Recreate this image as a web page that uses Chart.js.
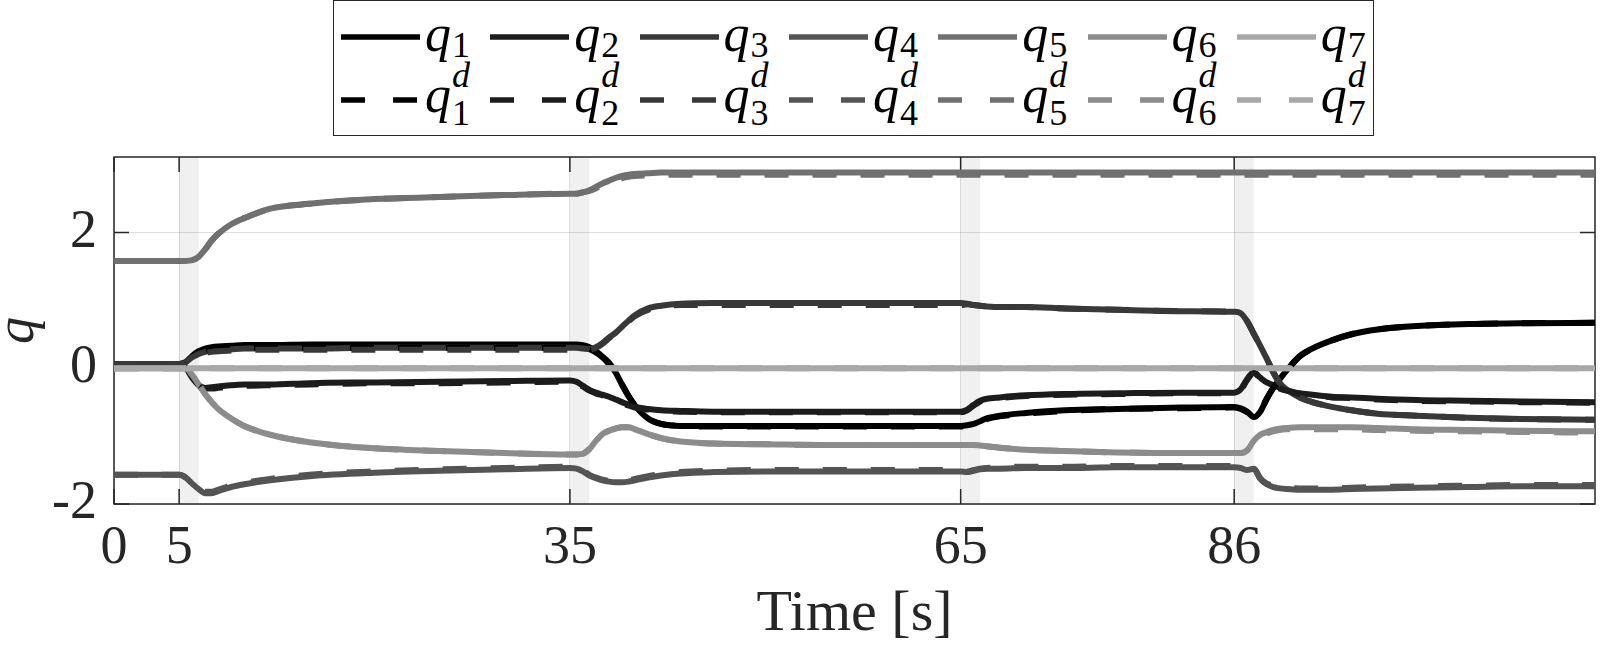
<!DOCTYPE html>
<html>
<head>
<meta charset="utf-8">
<title>Joint positions q</title>
<script src="https://cdn.jsdelivr.net/npm/chart.js@4.4.1/dist/chart.umd.min.js"></script>
<style>
  html, body { margin: 0; padding: 0; background: #fff; }
  #wrap { position: relative; width: 1603px; height: 653px; overflow: hidden; }
  #qChart { position: absolute; left: 0; top: 0; }
  #legendBox { position: absolute; left: 333px; top: 0; width: 1041px; height: 136px; box-sizing: border-box; border: 1.5px solid #262626; background: #fff; }
  #legendItems { position: absolute; left: 0; top: 0; font-family: "Liberation Serif", serif; }
  .sample { position: absolute; }
  .lab { position: absolute; font-family: "Liberation Serif", serif; font-size: 52px; line-height: 52px; color: #000; white-space: nowrap; }
  .lab i { font-family: "Liberation Serif", serif; font-style: italic; }
  .scr { position: relative; display: inline-block; width: 22px; height: 0; }
  .scr span { position: absolute; left: 1px; font-family: "Liberation Serif", serif; font-size: 36px; line-height: 36px; }
  .sub1 { bottom: -12px; }
  .sub2 { bottom: -19px; }
  .sup { bottom: 19px; font-style: italic; }
</style>
</head>
<body>
<div id="wrap">
  <canvas id="qChart" width="1603" height="653"></canvas>
  <div id="legendBox"></div>
  <div id="legendItems"></div>
</div>
<script>
// sample times [s]
const time = [0, 5, 5.5, 6, 6.5, 7, 7.5, 8, 9, 10,
  12, 15, 20, 25, 30, 35, 35.5, 36, 36.5, 37,
  37.5, 38, 38.5, 39, 39.5, 40, 41, 42, 43.5, 46,
  50, 55, 60, 65, 65.5, 66, 66.5, 67, 68, 70,
  73, 77, 82, 86, 86.5, 87, 87.5, 88, 88.5, 89,
  89.5, 90, 91, 92, 93.5, 95, 97, 100, 104, 108,
  113.7];

// measured joint positions
const q1 = [0.06, 0.06, 0.09, 0.18, 0.25, 0.29, 0.31, 0.32, 0.33, 0.34,
  0.34, 0.35, 0.35, 0.35, 0.35, 0.35, 0.35, 0.34, 0.31, 0.25,
  0.17, 0.08, -0.06, -0.24, -0.41, -0.55, -0.74, -0.82, -0.85, -0.85,
  -0.85, -0.85, -0.85, -0.85, -0.84, -0.82, -0.78, -0.74, -0.7, -0.66,
  -0.62, -0.6, -0.58, -0.57, -0.59, -0.64, -0.72, -0.64, -0.45, -0.29,
  -0.16, -0.04, 0.17, 0.29, 0.41, 0.5, 0.57, 0.62, 0.65, 0.66,
  0.67];
const q2 = [0.06, 0.06, 0.01, -0.14, -0.25, -0.29, -0.28, -0.27, -0.25, -0.24,
  -0.24, -0.22, -0.21, -0.2, -0.19, -0.18, -0.2, -0.26, -0.32, -0.36,
  -0.39, -0.42, -0.46, -0.5, -0.54, -0.57, -0.6, -0.62, -0.63, -0.64,
  -0.64, -0.64, -0.64, -0.64, -0.61, -0.54, -0.48, -0.45, -0.43, -0.4,
  -0.38, -0.37, -0.36, -0.36, -0.31, -0.16, -0.06, -0.14, -0.21, -0.25,
  -0.29, -0.32, -0.37, -0.39, -0.42, -0.43, -0.45, -0.47, -0.48, -0.49,
  -0.5];
const q3 = [0.06, 0.06, 0.09, 0.16, 0.21, 0.24, 0.26, 0.27, 0.28, 0.29,
  0.29, 0.29, 0.3, 0.3, 0.3, 0.3, 0.3, 0.29, 0.28, 0.31,
  0.37, 0.45, 0.52, 0.61, 0.7, 0.78, 0.88, 0.92, 0.95, 0.96,
  0.96, 0.96, 0.96, 0.96, 0.95, 0.93, 0.92, 0.91, 0.9, 0.9,
  0.88, 0.86, 0.84, 0.83, 0.81, 0.69, 0.51, 0.33, 0.14, -0.06,
  -0.22, -0.31, -0.43, -0.5, -0.57, -0.62, -0.67, -0.7, -0.73, -0.75,
  -0.76];
const q4 = [-1.57, -1.57, -1.61, -1.7, -1.78, -1.84, -1.84, -1.81, -1.75, -1.71,
  -1.65, -1.59, -1.54, -1.51, -1.49, -1.47, -1.48, -1.52, -1.58, -1.62,
  -1.65, -1.67, -1.68, -1.68, -1.67, -1.65, -1.61, -1.58, -1.55, -1.53,
  -1.52, -1.52, -1.52, -1.52, -1.53, -1.51, -1.49, -1.48, -1.48, -1.47,
  -1.47, -1.46, -1.46, -1.46, -1.47, -1.5, -1.48, -1.63, -1.71, -1.75,
  -1.77, -1.78, -1.79, -1.79, -1.79, -1.78, -1.77, -1.76, -1.75, -1.74,
  -1.74];
const q5 = [1.58, 1.58, 1.58, 1.59, 1.64, 1.75, 1.88, 1.98, 2.12, 2.21,
  2.35, 2.42, 2.49, 2.52, 2.55, 2.57, 2.57, 2.59, 2.62, 2.67,
  2.72, 2.76, 2.8, 2.83, 2.85, 2.86, 2.87, 2.88, 2.88, 2.88,
  2.88, 2.88, 2.88, 2.88, 2.88, 2.88, 2.88, 2.88, 2.88, 2.88,
  2.88, 2.88, 2.88, 2.88, 2.88, 2.88, 2.88, 2.88, 2.88, 2.88,
  2.88, 2.88, 2.88, 2.88, 2.88, 2.88, 2.88, 2.88, 2.88, 2.88,
  2.88];
const q6 = [0, 0, 0, -0.1, -0.24, -0.38, -0.5, -0.6, -0.74, -0.85,
  -0.98, -1.09, -1.18, -1.22, -1.25, -1.27, -1.27, -1.26, -1.19, -1.07,
  -0.97, -0.92, -0.89, -0.87, -0.87, -0.9, -0.97, -1.03, -1.08, -1.11,
  -1.12, -1.13, -1.13, -1.13, -1.13, -1.13, -1.14, -1.15, -1.17, -1.2,
  -1.22, -1.24, -1.25, -1.25, -1.25, -1.21, -1.07, -0.98, -0.94, -0.91,
  -0.89, -0.88, -0.87, -0.87, -0.87, -0.87, -0.88, -0.9, -0.91, -0.92,
  -0.93];
const q7 = [0, 0, 0, 0, 0, 0, 0, 0, 0, 0,
  0, 0, 0, 0, 0, 0, 0, 0, 0, 0,
  0, 0, 0, 0, 0, 0, 0, 0, 0, 0,
  0, 0, 0, 0, 0, 0, 0, 0, 0, 0,
  0, 0, 0, 0, 0, 0, 0, 0, 0, 0,
  0, 0, 0, 0, 0, 0, 0, 0, 0, 0,
  0];

// desired joint positions
const q1d = [0.06, 0.06, 0.08, 0.16, 0.22, 0.26, 0.28, 0.29, 0.29, 0.3,
  0.3, 0.3, 0.3, 0.3, 0.3, 0.3, 0.3, 0.3, 0.28, 0.23,
  0.16, 0.06, -0.07, -0.24, -0.41, -0.55, -0.74, -0.82, -0.85, -0.86,
  -0.86, -0.86, -0.86, -0.86, -0.85, -0.83, -0.79, -0.75, -0.71, -0.67,
  -0.63, -0.6, -0.59, -0.58, -0.6, -0.65, -0.72, -0.64, -0.45, -0.29,
  -0.16, -0.04, 0.17, 0.29, 0.41, 0.5, 0.57, 0.62, 0.65, 0.66,
  0.67];
const q2d = [0.06, 0.06, 0.01, -0.15, -0.26, -0.3, -0.3, -0.29, -0.27, -0.26,
  -0.25, -0.24, -0.22, -0.22, -0.21, -0.2, -0.21, -0.27, -0.33, -0.37,
  -0.4, -0.43, -0.47, -0.51, -0.55, -0.58, -0.61, -0.63, -0.64, -0.65,
  -0.65, -0.65, -0.65, -0.65, -0.62, -0.55, -0.49, -0.46, -0.44, -0.41,
  -0.39, -0.38, -0.37, -0.37, -0.32, -0.17, -0.07, -0.15, -0.22, -0.26,
  -0.3, -0.33, -0.38, -0.4, -0.43, -0.44, -0.46, -0.48, -0.49, -0.5,
  -0.51];
const q3d = [0.06, 0.06, 0.08, 0.14, 0.19, 0.22, 0.24, 0.25, 0.26, 0.27,
  0.27, 0.27, 0.27, 0.27, 0.27, 0.27, 0.27, 0.27, 0.27, 0.3,
  0.36, 0.44, 0.52, 0.6, 0.69, 0.77, 0.86, 0.9, 0.93, 0.93,
  0.93, 0.93, 0.93, 0.93, 0.94, 0.93, 0.92, 0.91, 0.9, 0.9,
  0.88, 0.86, 0.84, 0.83, 0.81, 0.69, 0.51, 0.33, 0.14, -0.06,
  -0.22, -0.31, -0.43, -0.5, -0.57, -0.62, -0.67, -0.7, -0.73, -0.75,
  -0.76];
const q4d = [-1.57, -1.57, -1.61, -1.7, -1.77, -1.82, -1.82, -1.79, -1.73, -1.69,
  -1.63, -1.57, -1.52, -1.49, -1.47, -1.45, -1.46, -1.51, -1.57, -1.61,
  -1.64, -1.66, -1.66, -1.66, -1.65, -1.63, -1.59, -1.56, -1.53, -1.51,
  -1.5, -1.5, -1.5, -1.5, -1.52, -1.5, -1.48, -1.47, -1.46, -1.45,
  -1.45, -1.44, -1.44, -1.44, -1.46, -1.49, -1.48, -1.62, -1.7, -1.73,
  -1.75, -1.76, -1.77, -1.77, -1.77, -1.76, -1.75, -1.74, -1.73, -1.72,
  -1.72];
const q5d = [1.58, 1.58, 1.58, 1.59, 1.64, 1.75, 1.88, 1.98, 2.12, 2.21,
  2.35, 2.42, 2.49, 2.52, 2.55, 2.57, 2.57, 2.59, 2.61, 2.65,
  2.7, 2.73, 2.77, 2.8, 2.82, 2.83, 2.84, 2.85, 2.85, 2.85,
  2.85, 2.85, 2.85, 2.85, 2.85, 2.85, 2.85, 2.85, 2.85, 2.85,
  2.85, 2.85, 2.85, 2.85, 2.85, 2.85, 2.85, 2.85, 2.85, 2.85,
  2.85, 2.85, 2.85, 2.85, 2.85, 2.85, 2.85, 2.85, 2.85, 2.85,
  2.85];
const q6d = [0, 0, 0, -0.1, -0.24, -0.38, -0.5, -0.6, -0.74, -0.85,
  -0.98, -1.09, -1.18, -1.22, -1.25, -1.27, -1.27, -1.26, -1.19, -1.07,
  -0.97, -0.92, -0.89, -0.87, -0.87, -0.9, -0.97, -1.03, -1.08, -1.11,
  -1.12, -1.13, -1.13, -1.13, -1.13, -1.13, -1.14, -1.15, -1.17, -1.2,
  -1.22, -1.24, -1.25, -1.25, -1.25, -1.21, -1.08, -1.0, -0.96, -0.93,
  -0.91, -0.9, -0.89, -0.9, -0.9, -0.9, -0.91, -0.92, -0.93, -0.94,
  -0.95];
const q7d = [0, 0, 0, 0, 0, 0, 0, 0, 0, 0,
  0, 0, 0, 0, 0, 0, 0, 0, 0, 0,
  0, 0, 0, 0, 0, 0, 0, 0, 0, 0,
  0, 0, 0, 0, 0, 0, 0, 0, 0, 0,
  0, 0, 0, 0, 0, 0, 0, 0, 0, 0,
  0, 0, 0, 0, 0, 0, 0, 0, 0, 0,
  0];

// axis ticks and the shaded switching phases
const timeTicks = [0, 5, 35, 65, 86];
const qTicks = [-2, 0, 2];
const phaseStart = [5, 35, 65, 86];
const phaseEnd = [6.5, 36.5, 66.5, 87.5];

// styles
const grays = ['#000000', '#1c1c1c', '#383838', '#545454', '#707070', '#8c8c8c', '#a8a8a8'];
const serif = "'Liberation Serif', 'Times New Roman', serif";
const ink = '#262626';
const legendX0 = 341, legendStep = 149.3;
const rowLineY = [37, 100];
const rowTextTop = [7.5, 68.5];

const measured = [q1, q2, q3, q4, q5, q6, q7];
const desired = [q1d, q2d, q3d, q4d, q5d, q6d, q7d];

function points(values) {
    return time.map((t, k) => ({x: t, y: values[k]}));
}

const datasets = [];
measured.forEach((values, i) => {
    datasets.push({
        label: 'q' + (i + 1),
        joint: i + 1,
        desired: false,
        data: points(values),
        borderColor: grays[i],
        borderWidth: 6,
        borderCapStyle: 'round',
        borderJoinStyle: 'round',
        pointRadius: 0,
        cubicInterpolationMode: 'monotone',
        order: 20 - i
    });
});
desired.forEach((values, i) => {
    datasets.push({
        label: 'q' + (i + 1) + 'd',
        joint: i + 1,
        desired: true,
        data: points(values),
        borderColor: grays[i],
        borderWidth: 6,
        borderDash: [24, 24],
        borderJoinStyle: 'round',
        pointRadius: 0,
        cubicInterpolationMode: 'monotone',
        order: 10 - i
    });
});

// shaded phases, box and inward ticks like the original figure
const phasePlugin = {
    id: 'phases',
    beforeDraw(chart) {
        const {ctx, chartArea: a, scales: {x}} = chart;
        ctx.save();
        ctx.fillStyle = '#ffffff';
        ctx.fillRect(0, 0, chart.width, chart.height);
        ctx.fillStyle = '#f0f0f0';
        phaseStart.forEach((s, i) => {
            const x0 = x.getPixelForValue(s);
            const x1 = x.getPixelForValue(phaseEnd[i]);
            ctx.fillRect(x0, a.top, x1 - x0, a.bottom - a.top);
        });
        ctx.restore();
    },
    beforeDatasetsDraw(chart) {
        const {ctx, chartArea: a, scales: {x, y}} = chart;
        const len = 15;
        ctx.save();
        ctx.strokeStyle = ink;
        ctx.lineWidth = 1.5;
        ctx.beginPath();
        x.ticks.forEach(t => {
            const px = x.getPixelForValue(t.value);
            ctx.moveTo(px, a.bottom); ctx.lineTo(px, a.bottom - len);
            ctx.moveTo(px, a.top); ctx.lineTo(px, a.top + len);
        });
        y.ticks.forEach(t => {
            const py = y.getPixelForValue(t.value);
            ctx.moveTo(a.left, py); ctx.lineTo(a.left + len, py);
            ctx.moveTo(a.right, py); ctx.lineTo(a.right - len, py);
        });
        ctx.stroke();
        ctx.strokeRect(a.left, a.top, a.right - a.left, a.bottom - a.top);
        ctx.restore();
    }
};

// legend in html so the sub/superscripts can be set
const htmlLegend = {
    id: 'htmlLegend',
    afterUpdate(chart) {
        const box = document.getElementById('legendItems');
        box.innerHTML = '';
        chart.data.datasets.forEach(ds => {
            const row = ds.desired ? 1 : 0;
            const left = legendX0 + (ds.joint - 1) * legendStep;
            const dash = ds.desired ? 'stroke-dasharray="24 28"' : '';
            box.innerHTML += `<svg class="sample" style="left:${left}px;top:${rowLineY[row] - 6}px" width="79" height="12">` +
                `<line x1="0" y1="6" x2="79" y2="6" stroke="${ds.borderColor}" stroke-width="5.5" ${dash}/></svg>`;
            const scripts = ds.desired
                ? `<span class="sup">d</span><span class="sub2">${ds.joint}</span>`
                : `<span class="sub1">${ds.joint}</span>`;
            box.innerHTML += `<div class="lab" style="left:${left + 84}px;top:${rowTextTop[row]}px"><i>q</i><span class="scr">${scripts}</span></div>`;
        });
    }
};

const ctx = document.getElementById('qChart').getContext('2d');
new Chart(ctx, {
    type: 'line',
    data: {datasets: datasets},
    plugins: [phasePlugin, htmlLegend],
    options: {
        responsive: false,
        animation: false,
        events: [],
        layout: {padding: {top: 157, right: 8, left: 0, bottom: 0}},
        plugins: {legend: {display: false}, tooltip: {enabled: false}},
        scales: {
            x: {
                type: 'linear',
                min: 0,
                max: 113.7,
                afterBuildTicks: s => { s.ticks = timeTicks.map(v => ({value: v})); },
                afterFit: s => { s.height = 149; },
                ticks: {autoSkip: false, maxRotation: 0, padding: 12, color: ink, font: {family: serif, size: 54}},
                grid: {color: 'rgba(38,38,38,0.15)', lineWidth: 1, drawTicks: false},
                border: {display: false},
                title: {display: true, text: 'Time [s]', color: ink, padding: {top: 0, bottom: 3}, font: {family: serif, size: 58}}
            },
            y: {
                min: -2,
                max: 3.11,
                afterBuildTicks: s => { s.ticks = qTicks.map(v => ({value: v})); },
                afterFit: s => { s.width = 114; },
                ticks: {padding: 17, color: ink, font: {family: serif, size: 54}},
                grid: {color: 'rgba(38,38,38,0.15)', lineWidth: 1, drawTicks: false},
                border: {display: false},
                title: {display: true, text: 'q', color: ink, padding: {top: 12, bottom: 0}, font: {family: serif, size: 54, style: 'italic', lineHeight: 0.26}}
            }
        }
    }
});
</script>
</body>
</html>
